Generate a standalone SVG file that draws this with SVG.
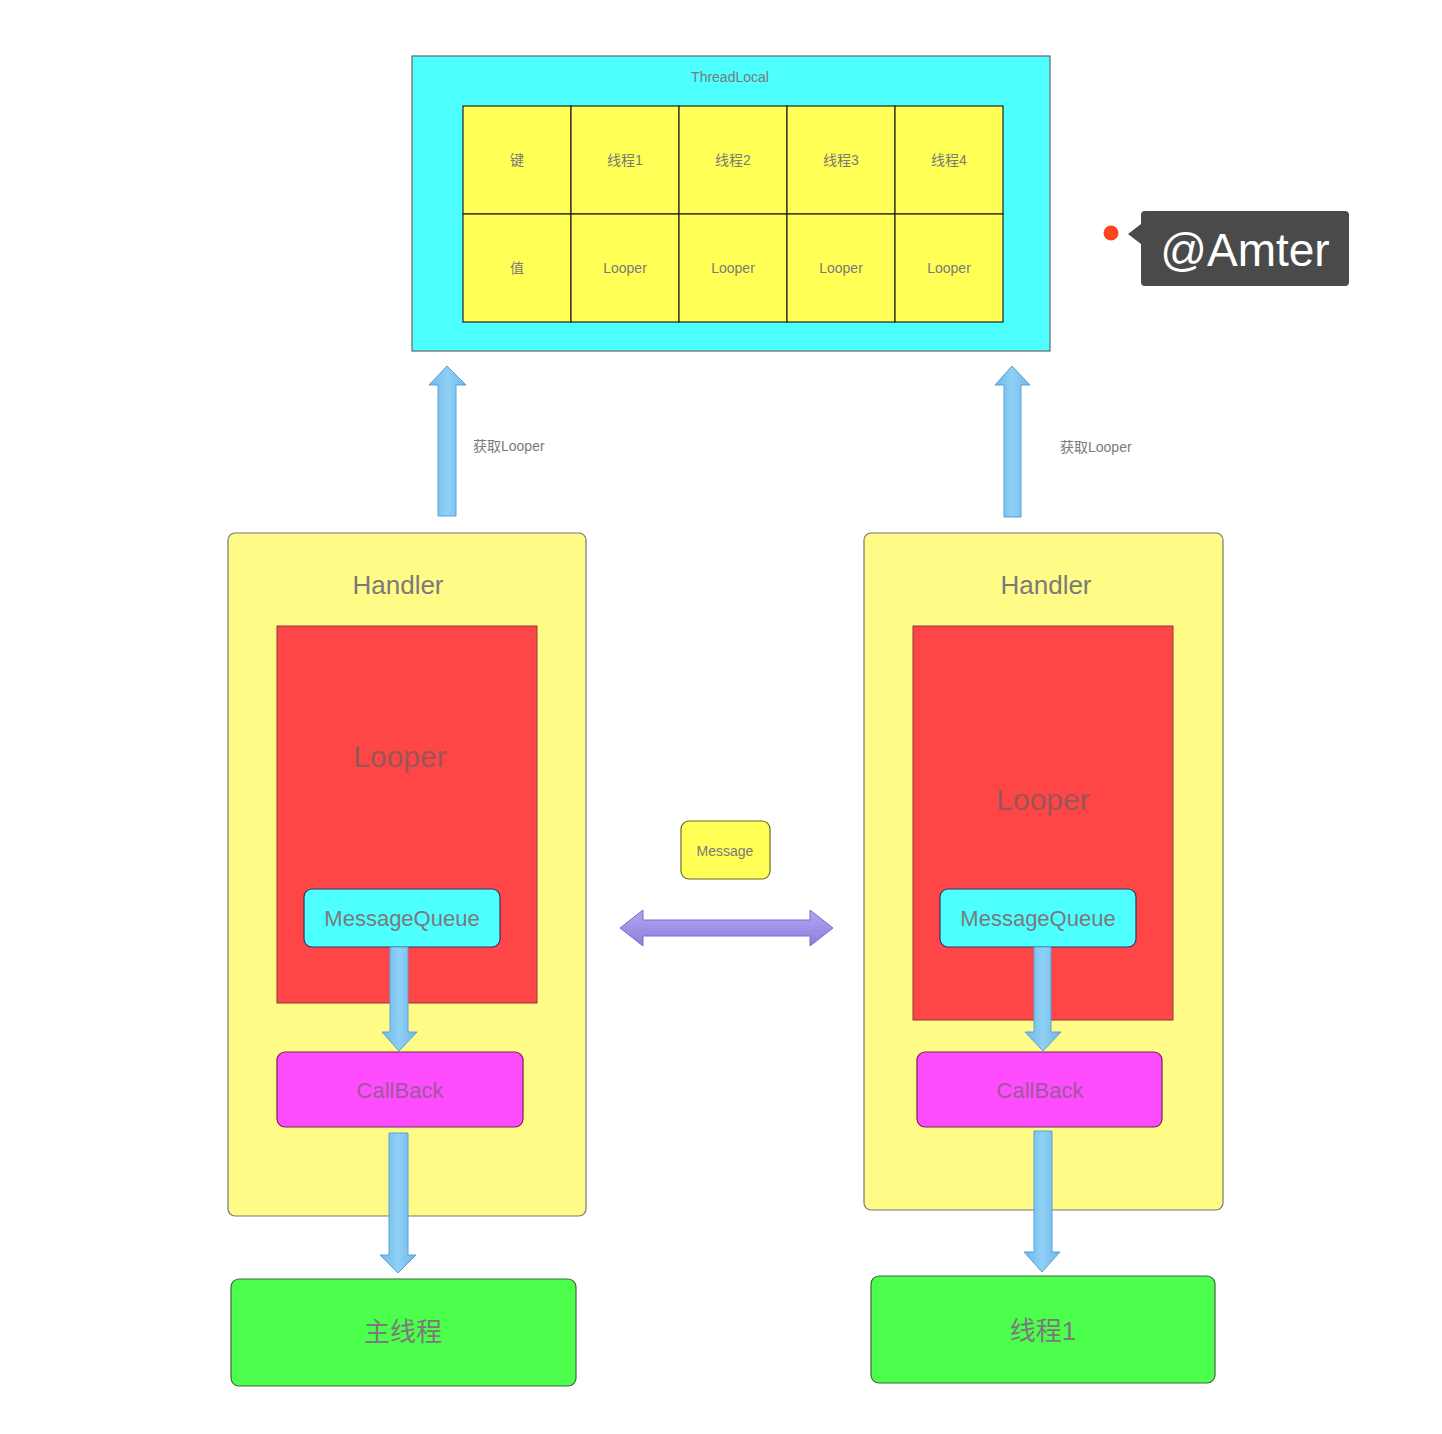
<svg xmlns="http://www.w3.org/2000/svg" width="1442" height="1434" viewBox="0 0 1442 1434">
<style>
.t{font-family:"Liberation Sans","Noto Sans CJK SC",sans-serif;fill:#7a7a7a;text-anchor:middle}
.cell{fill:#ffff55;stroke:#222;stroke-width:1.2}
.handler{fill:#fffb86;stroke:#777;stroke-width:1.2}
.red{fill:#ff4646;stroke:#8a3a3a;stroke-width:1}
.mq{fill:#4dffff;stroke:#336;stroke-width:1.2}
.cb{fill:#ff4cff;stroke:#6a2a5a;stroke-width:1.2}
.green{fill:#4dff4d;stroke:#3a6a3a;stroke-width:1.2}
.barrow{fill:url(#bg);stroke:#5aa0d8;stroke-width:1}
</style>
<defs>
<linearGradient id="bg" x1="0" y1="0" x2="1" y2="0">
<stop offset="0" stop-color="#6db8ea"/><stop offset="0.5" stop-color="#8fd0f5"/><stop offset="1" stop-color="#6db8ea"/>
</linearGradient>
<linearGradient id="pg" x1="0" y1="0" x2="0" y2="1">
<stop offset="0" stop-color="#b0a6f2"/><stop offset="1" stop-color="#8c7fdc"/>
</linearGradient>
</defs>
<rect width="1442" height="1434" fill="#ffffff"/>

<g id="threadlocal">
<rect x="412" y="56" width="638" height="295" fill="#4dffff" stroke="#666" stroke-width="1.2"/>
<text class="t" x="730" y="82" font-size="14">ThreadLocal</text>
<rect class="cell" x="463" y="106" width="108" height="108"/>
<rect class="cell" x="571" y="106" width="108" height="108"/>
<rect class="cell" x="679" y="106" width="108" height="108"/>
<rect class="cell" x="787" y="106" width="108" height="108"/>
<rect class="cell" x="895" y="106" width="108" height="108"/>
<rect class="cell" x="463" y="214" width="108" height="108"/>
<rect class="cell" x="571" y="214" width="108" height="108"/>
<rect class="cell" x="679" y="214" width="108" height="108"/>
<rect class="cell" x="787" y="214" width="108" height="108"/>
<rect class="cell" x="895" y="214" width="108" height="108"/>
<text class="t" x="517" y="165" font-size="14">键</text>
<text class="t" x="625" y="165" font-size="14">线程1</text>
<text class="t" x="733" y="165" font-size="14">线程2</text>
<text class="t" x="841" y="165" font-size="14">线程3</text>
<text class="t" x="949" y="165" font-size="14">线程4</text>
<text class="t" x="517" y="273" font-size="14">值</text>
<text class="t" x="625" y="273" font-size="14">Looper</text>
<text class="t" x="733" y="273" font-size="14">Looper</text>
<text class="t" x="841" y="273" font-size="14">Looper</text>
<text class="t" x="949" y="273" font-size="14">Looper</text>
</g>

<g id="watermark">
<circle cx="1111" cy="233" r="7.5" fill="#ff4422"/>
<path d="M1145 211 H1345 Q1349 211 1349 215 V282 Q1349 286 1345 286 H1145 Q1141 286 1141 282 V244 L1128 234 L1141 224 V215 Q1141 211 1145 211 Z" fill="#4a4a4a"/>
<text x="1245" y="266" font-size="46" font-family="'Liberation Sans',sans-serif" fill="#ffffff" text-anchor="middle">@Amter</text>
</g>

<g id="handler-left">
<rect class="handler" x="228" y="533" width="358" height="683" rx="7"/>
<text class="t" x="398" y="594" font-size="26">Handler</text>
</g>
<g id="looper-left">
<rect class="red" x="277" y="626" width="260" height="377"/>
<text class="t" x="400" y="767" font-size="30" style="fill:#9a5555">Looper</text>
</g>
<g id="mq-left">
<rect class="mq" x="304" y="889" width="196" height="58" rx="8"/>
<text class="t" x="402" y="926" font-size="22">MessageQueue</text>
</g>
<g id="callback-left">
<rect class="cb" x="277" y="1052" width="246" height="75" rx="8"/>
<text class="t" x="400" y="1098" font-size="22" style="fill:#9a5a9a">CallBack</text>
</g>
<g id="main-thread">
<rect class="green" x="231" y="1279" width="345" height="107" rx="8"/>
<text class="t" x="403" y="1341" font-size="26">主线程</text>
</g>

<g id="handler-right">
<rect class="handler" x="864" y="533" width="359" height="677" rx="7"/>
<text class="t" x="1046" y="594" font-size="26">Handler</text>
</g>
<g id="looper-right">
<rect class="red" x="913" y="626" width="260" height="394"/>
<text class="t" x="1043" y="810" font-size="30" style="fill:#9a5555">Looper</text>
</g>
<g id="mq-right">
<rect class="mq" x="940" y="889" width="196" height="58" rx="8"/>
<text class="t" x="1038" y="926" font-size="22">MessageQueue</text>
</g>
<g id="callback-right">
<rect class="cb" x="917" y="1052" width="245" height="75" rx="8"/>
<text class="t" x="1040" y="1098" font-size="22" style="fill:#9a5a9a">CallBack</text>
</g>
<g id="thread1">
<rect class="green" x="871" y="1276" width="344" height="107" rx="8"/>
<text class="t" x="1043" y="1340" font-size="26">线程1</text>
</g>

<g id="message">
<rect x="681" y="821" width="89" height="58" rx="8" fill="#ffff55" stroke="#6a6a2a" stroke-width="1.2"/>
<text class="t" x="725" y="856" font-size="14">Message</text>
</g>

<g id="connectors">
<path class="barrow" d="M438 516 V385 H429 L447 366 L466 385 H456 V516 Z"/>
<text x="473" y="451" font-size="14" font-family="'Liberation Sans','Noto Sans CJK SC',sans-serif" fill="#7a7a7a">获取Looper</text>
<path class="barrow" d="M1004 517 V385 H995 L1012 366 L1030 385 H1021 V517 Z"/>
<text x="1060" y="452" font-size="14" font-family="'Liberation Sans','Noto Sans CJK SC',sans-serif" fill="#7a7a7a">获取Looper</text>
<path class="barrow" d="M390 947 V1032 H382 L399 1051 L417 1032 H408 V947 Z"/>
<path class="barrow" d="M389 1133 V1255 H380 L398 1273 L416 1255 H408 V1133 Z"/>
<path class="barrow" d="M1034 947 V1032 H1025 L1043 1051 L1061 1032 H1051 V947 Z"/>
<path class="barrow" d="M1034 1131 V1252 H1024 L1042 1272 L1060 1252 H1052 V1131 Z"/>
<path d="M620 928 L643 910 V920 H810 V910 L833 928 L810 946 V936 H643 V946 Z" fill="url(#pg)" stroke="#7a6ccc" stroke-width="1"/>
</g>
</svg>
